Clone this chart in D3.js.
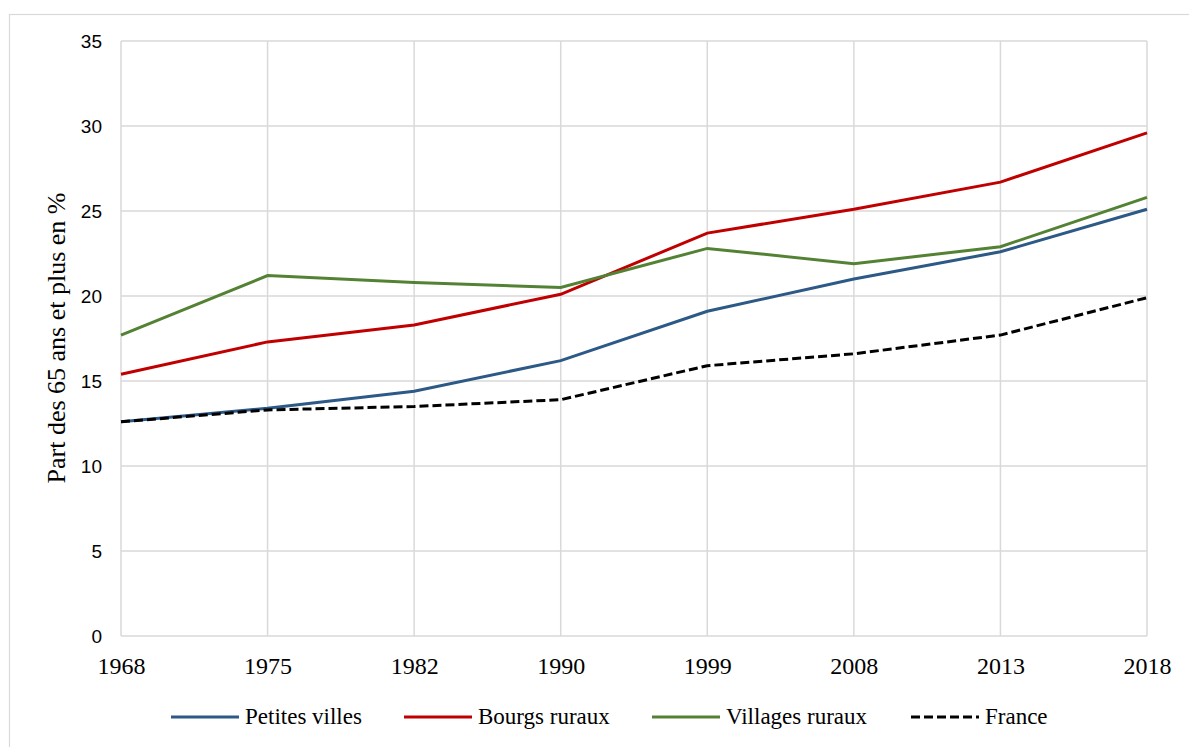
<!DOCTYPE html>
<meta charset="utf-8">
<script src="https://d3js.org/d3.v7.min.js"></script>
<style>
    body { margin: 0; background: #fff; }
</style>
<div id="vis"></div>
<script>
    // data
    var years = ["1968", "1975", "1982", "1990", "1999", "2008", "2013", "2018"];
    var petitesVilles = [12.6, 13.4, 14.4, 16.2, 19.1, 21.0, 22.6, 25.1];
    var bourgsRuraux = [15.4, 17.3, 18.3, 20.1, 23.7, 25.1, 26.7, 29.6];
    var villagesRuraux = [17.7, 21.2, 20.8, 20.5, 22.8, 21.9, 22.9, 25.8];
    var france = [12.6, 13.3, 13.5, 13.9, 15.9, 16.6, 17.7, 19.9];
    var yTicks = [0, 5, 10, 15, 20, 25, 30, 35];

    var series = [
        { name: "Petites villes", vals: petitesVilles, clr: "#2c5986", dash: null },
        { name: "Bourgs ruraux", vals: bourgsRuraux, clr: "#c00000", dash: null },
        { name: "Villages ruraux", vals: villagesRuraux, clr: "#548235", dash: null },
        { name: "France", vals: france, clr: "#000000", dash: "9,4" }
    ];

    var W = 1189, H = 747;
    var mgn = { top: 41, lft: 121, rgt: 42, btm: 111 };
    var wid = W - mgn.lft - mgn.rgt,
        hgt = H - mgn.top - mgn.btm;
    var serif = "'Liberation Serif', 'Times New Roman', serif";

    var root = d3.select("#vis").append("svg")
        .attr("width", W)
        .attr("height", H);

    // outer frame
    root.append("rect")
        .attr("x", 9.5).attr("y", 14.5)
        .attr("width", W).attr("height", H)
        .attr("fill", "none")
        .attr("stroke", "#d9d9d9")
        .attr("stroke-width", 1.2);

    var svg = root.append("g")
        .attr("transform", "translate(" + mgn.lft + "," + mgn.top + ")");

    var x = d3.scalePoint().domain(years).range([0, wid]);
    var y = d3.scaleLinear().domain([0, 35]).range([hgt, 0]);

    // grid
    svg.append("g").selectAll("line.h")
        .data(yTicks).enter().append("line")
        .attr("x1", 0).attr("x2", wid)
        .attr("y1", function (d) { return y(d); })
        .attr("y2", function (d) { return y(d); })
        .attr("stroke", "#d9d9d9").attr("stroke-width", 1.5);
    svg.append("g").selectAll("line.v")
        .data(years).enter().append("line")
        .attr("x1", function (d) { return x(d); })
        .attr("x2", function (d) { return x(d); })
        .attr("y1", 0).attr("y2", hgt)
        .attr("stroke", "#d9d9d9").attr("stroke-width", 1.5);

    // axes
    var yAx = svg.append("g")
        .call(d3.axisLeft(y).tickValues(yTicks).tickSize(0).tickPadding(19));
    yAx.select(".domain").remove();
    yAx.selectAll("text")
        .style("font-family", "'Liberation Sans', Arial, sans-serif")
        .style("font-size", "19px")
        .attr("fill", "#000");

    var xAx = svg.append("g")
        .attr("transform", "translate(0," + hgt + ")")
        .call(d3.axisBottom(x).tickSize(0).tickPadding(21));
    xAx.select(".domain").remove();
    xAx.selectAll("text")
        .style("font-family", serif)
        .style("font-size", "24px")
        .attr("fill", "#000");

    // y label
    svg.append("text")
        .attr("transform", "rotate(-90)")
        .attr("x", -(338 - mgn.top))
        .attr("y", -56)
        .attr("text-anchor", "middle")
        .style("font-family", serif)
        .style("font-size", "26px")
        .text("Part des 65 ans et plus en %");

    // lines
    var line = d3.line()
        .x(function (d, i) { return x(years[i]); })
        .y(function (d) { return y(d); });

    svg.append("g").selectAll("path.s")
        .data(series).enter().append("path")
        .attr("d", function (s) { return line(s.vals); })
        .attr("fill", "none")
        .attr("stroke", function (s) { return s.clr; })
        .attr("stroke-width", 3)
        .attr("stroke-dasharray", function (s) { return s.dash; });

    // legend
    var lgX = [171, 404, 652, 911];
    var lg = root.append("g").selectAll("g")
        .data(series).enter().append("g")
        .attr("transform", function (s, i) { return "translate(" + lgX[i] + ",717)"; });
    lg.append("line")
        .attr("x1", 0).attr("x2", 68)
        .attr("stroke", function (s) { return s.clr; })
        .attr("stroke-width", 3)
        .attr("stroke-dasharray", function (s) { return s.dash; });
    lg.append("text")
        .attr("x", 74).attr("y", 7)
        .style("font-family", serif)
        .style("font-size", "23px")
        .text(function (s) { return s.name; });
</script>
